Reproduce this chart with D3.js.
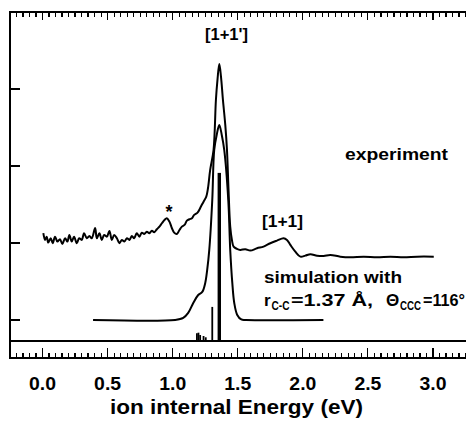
<!DOCTYPE html>
<html><head><meta charset="utf-8">
<script src="https://cdn.jsdelivr.net/npm/d3@7"></script>
<style>
body{margin:0;background:#fff}
svg{display:block}
text{font-family:"Liberation Sans",Arial,Helvetica,sans-serif;font-weight:bold;fill:#000}
</style>
</head><body>
<svg id="chart" width="466" height="428"></svg>
<script>
// ---- data (energy in eV, intensity in arbitrary units) ----
const expEnergy = [0.010,0.023,0.036,0.048,0.067,0.082,0.100,0.118,0.138,0.156,0.177,0.195,0.210,0.228,0.246,0.267,0.285,0.305,0.323,0.344,0.364,0.382,0.408,0.421,0.441,0.459,0.477,0.498,0.518,0.536,0.554,0.575,0.595,0.613,0.633,0.652,0.672,0.690,0.708,0.728,0.748,0.767,0.785,0.805,0.825,0.844,0.862,0.882,0.902,0.921,0.941,0.959,0.979,0.998,1.015,1.036,1.056,1.075,1.095,1.113,1.133,1.152,1.169,1.195,1.221,1.241,1.262,1.275,1.292,1.318,1.336,1.348,1.362,1.375,1.390,1.408,1.421,1.433,1.446,1.459,1.472,1.498,1.523,1.562,1.600,1.652,1.702,1.754,1.805,1.856,1.882,1.908,1.946,1.985,2.023,2.062,2.113,2.164,2.215,2.292,2.369,2.472,2.575,2.677,2.779,2.882,3.010];
const expIntensity = [1.125,1.038,1.080,1.003,1.060,0.995,1.080,1.016,1.047,0.986,1.060,1.016,1.102,1.016,1.080,0.995,1.060,1.038,1.125,1.060,1.089,1.060,1.193,1.060,1.125,1.038,1.102,1.080,1.154,1.038,1.102,1.060,0.995,1.038,1.016,1.060,1.038,1.089,1.060,1.125,1.080,1.132,1.115,1.145,1.125,1.158,1.137,1.176,1.210,1.254,1.297,1.319,1.275,1.189,1.132,1.115,1.167,1.210,1.232,1.288,1.306,1.319,1.362,1.392,1.470,1.534,1.599,1.708,1.946,2.205,2.853,3.113,3.320,3.156,2.853,2.529,2.205,1.686,1.210,1.038,0.951,0.921,0.908,0.917,0.899,0.930,0.951,0.995,1.029,1.060,1.038,0.973,0.886,0.821,0.834,0.852,0.834,0.830,0.843,0.821,0.813,0.821,0.813,0.821,0.813,0.821,0.821];

const simEnergy = [0.392,1.023,1.085,1.123,1.162,1.200,1.231,1.254,1.269,1.285,1.308,1.323,1.342,1.362,1.381,1.400,1.431,1.446,1.462,1.477,1.500,1.531,1.569,2.162];
const simIntensity = [0,0,0.026,0.091,0.220,0.324,0.363,0.480,0.649,0.908,1.556,2.205,2.399,2.529,2.399,2.205,1.556,0.908,0.480,0.220,0.065,0.006,0,0];

const stickBase = -0.272;
const stickEnergy = [1.190,1.202,1.215,1.241,1.258,1.308,1.362];
const stickTop = [-0.173,-0.165,-0.195,-0.208,-0.225,0.169,1.907];

const xMajorTicks = [0.0,0.5,1.0,1.5,2.0,2.5,3.0];
const xTickLabels = ["0.0","0.5","1.0","1.5","2.0","2.5","3.0"];
const yTicks = [0,1,2,3];
const xTitle = "ion internal Energy (eV)";

// ---- layout ----
const svg = d3.select("#chart");
const mLeft = 10, mRight = 468, mTop = 12, mBottom = 358;
const x = d3.scaleLinear().domain([-0.25, 3.273]).range([mLeft - 0.5, mRight]);
const y = d3.scaleLinear().domain([-0.5, 4]).range([mBottom + 0.5, mTop - 0.5]);

const xMinorTicks = d3.range(-5, 66).map(i => +(i * 0.05).toFixed(2)).filter(v => Math.abs(v * 2 - Math.round(v * 2)) > 1e-6);

function tickAxis(axis, ty) {
  const g = svg.append("g").attr("transform", `translate(0,${ty})`).call(axis);
  g.select(".domain").remove();
  g.selectAll("line").attr("stroke", "#000").attr("stroke-width", 1.2).attr("shape-rendering", "crispEdges");
  return g;
}
// bottom axis ticks (inward)
tickAxis(d3.axisTop(x).tickValues(xMinorTicks).tickSize(5).tickFormat(""), mBottom);
tickAxis(d3.axisTop(x).tickValues(xMajorTicks).tickSize(10).tickFormat(""), mBottom);
// top axis ticks (inward)
tickAxis(d3.axisBottom(x).tickValues(xMinorTicks).tickSize(5).tickFormat(""), mTop);
tickAxis(d3.axisBottom(x).tickValues(xMajorTicks).tickSize(8).tickFormat(""), mTop);
// left ticks
const gl = svg.append("g").attr("transform", `translate(${mLeft},0)`).call(d3.axisRight(y).tickValues(yTicks).tickSize(10).tickFormat(""));
gl.select(".domain").remove();
gl.selectAll("line").attr("stroke", "#000").attr("stroke-width", 2).attr("shape-rendering", "crispEdges");

// tick labels
const gLab = svg.append("g").attr("transform", `translate(0,${mBottom})`)
  .call(d3.axisBottom(x).tickValues(xMajorTicks).tickSize(0).tickPadding(0).tickFormat((d, i) => xTickLabels[i]));
gLab.select(".domain").remove();
gLab.selectAll("text").attr("dy", null).attr("y", 32)
  .attr("font-size", 19).attr("font-family", '"Liberation Sans",Arial,sans-serif').attr("font-weight", "bold")
  .attr("textLength", 27).attr("lengthAdjust", "spacingAndGlyphs").attr("fill", "#000");

// frame
svg.append("path")
  .attr("d", `M${mRight},${mTop}H${mLeft}V${mBottom}H${mRight}`)
  .attr("fill", "none").attr("stroke", "#000").attr("stroke-width", 2);

// stick baseline
svg.append("line").attr("x1", mLeft).attr("x2", mRight)
  .attr("y1", y(stickBase)).attr("y2", y(stickBase))
  .attr("stroke", "#000").attr("stroke-width", 2);

// sticks
svg.append("g").selectAll("line").data(stickEnergy).join("line")
  .attr("x1", d => x(d)).attr("x2", d => x(d))
  .attr("y1", y(stickBase)).attr("y2", (d, i) => y(stickTop[i]))
  .attr("stroke", "#000")
  .attr("stroke-width", (d, i) => i === stickEnergy.length - 1 ? 3.4 : 1.8);

// curves
const line = d3.line().x(d => x(d[0])).y(d => y(d[1])).curve(d3.curveCatmullRom.alpha(0.5));
svg.append("path").datum(d3.zip(simEnergy, simIntensity))
  .attr("d", line).attr("fill", "none").attr("stroke", "#000").attr("stroke-width", 2);
svg.append("path").datum(d3.zip(expEnergy, expIntensity))
  .attr("d", line).attr("fill", "none").attr("stroke", "#000").attr("stroke-width", 2)
  .attr("stroke-linejoin", "round");

// annotations
function label(txt, xx, yy, size, len, anchor) {
  const t = svg.append("text").attr("x", xx).attr("y", yy).attr("font-size", size).text(txt);
  if (len) t.attr("textLength", len).attr("lengthAdjust", "spacingAndGlyphs");
  if (anchor) t.attr("text-anchor", anchor);
  return t;
}
label("[1+1']", 205, 40, 17, 43);
label("experiment", 345, 160, 17, 103);
label("*", 169, 218, 18, null, "middle");
label("[1+1]", 262, 227, 17, 41);
label("simulation with", 264, 283, 17, 138);

const t2 = svg.append("text").attr("y", 306).attr("font-size", 17);
t2.append("tspan").attr("x", 264).text("r");
t2.append("tspan").attr("x", 271.5).attr("dy", 4).attr("font-size", 12).attr("textLength", 18).attr("lengthAdjust", "spacingAndGlyphs").text("C-C");
t2.append("tspan").attr("x", 291).attr("dy", -4).attr("textLength", 82).attr("lengthAdjust", "spacingAndGlyphs").text("=1.37 Å,");
t2.append("tspan").attr("x", 386).text("Θ");
t2.append("tspan").attr("x", 400).attr("dy", 4).attr("font-size", 12).attr("textLength", 21).attr("lengthAdjust", "spacingAndGlyphs").text("CCC");
t2.append("tspan").attr("x", 423).attr("dy", -4).attr("textLength", 42).attr("lengthAdjust", "spacingAndGlyphs").text("=116°");

label(xTitle, 110, 414, 21, 253);
</script>
</body></html>
